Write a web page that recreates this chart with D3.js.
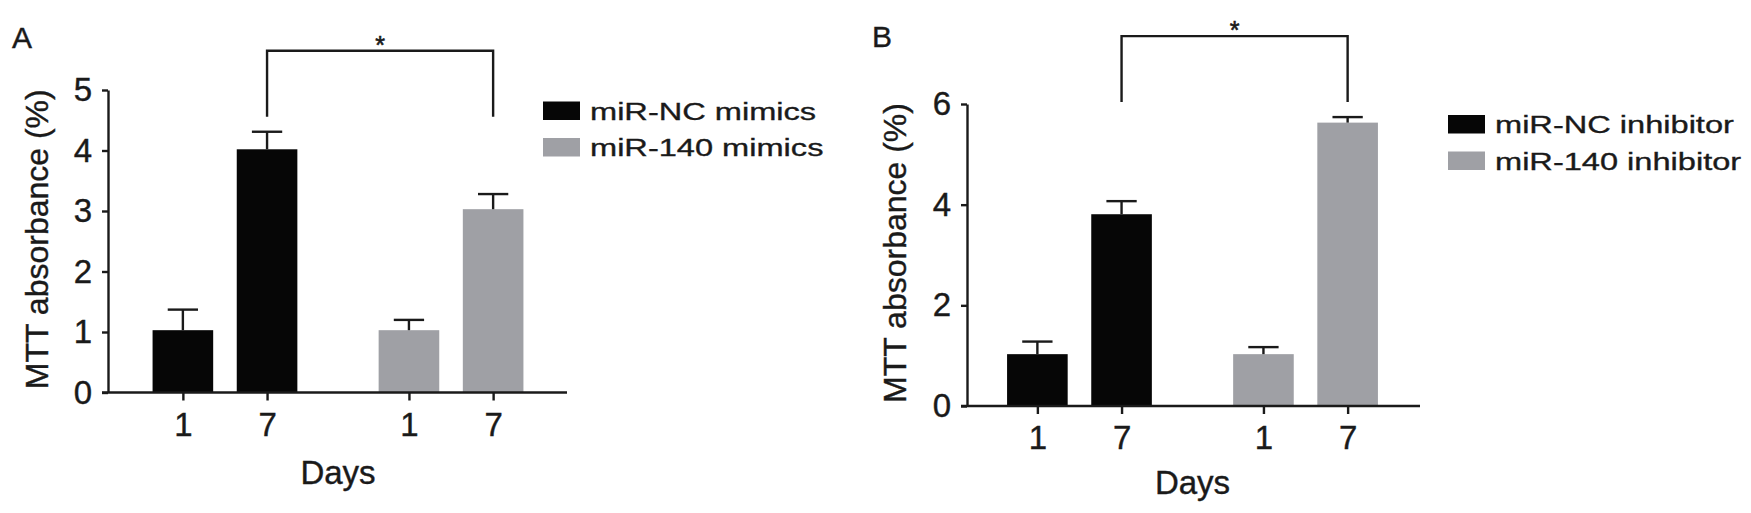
<!DOCTYPE html>
<html>
<head>
<meta charset="utf-8">
<script src="https://cdn.jsdelivr.net/npm/d3@7"></script>
<style>
  body { margin: 0; background: #fff; }
  svg { display: block; font-family: Arial, "Liberation Sans", Helvetica, sans-serif; }
</style>
</head>
<body>
<svg id="chart" width="1751" height="513"></svg>
<script>
// values (mean, upper error)
var days = ["1", "7"];

var groupsA = ["miR-NC mimics", "miR-140 mimics"];
var meansA = [[1.03, 4.02], [1.03, 3.03]];
var errA = [[0.34, 0.29], [0.17, 0.25]];
var ticksA = [0, 1, 2, 3, 4, 5];

var groupsB = ["miR-NC inhibitor", "miR-140 inhibitor"];
var meansB = [[1.03, 3.81], [1.03, 5.63]];
var errB = [[0.25, 0.26], [0.14, 0.11]];
var ticksB = [0, 2, 4, 6];

// significance: [group, day index] vs [group, day index]
var sigPair = [[0, 1], [1, 1]];
var sigLabel = "*";

var colors = ["#060606", "#9fa0a5"];
var ink = "#1a1a1a";

var svg = d3.select("#chart");

function drawPanel(cfg) {
  var g = svg.append("g")
    .attr("transform", "translate(" + cfg.left + "," + cfg.top + ")");

  var y = d3.scaleLinear()
    .domain([0, d3.max(cfg.ticks)])
    .range([cfg.height, 0]);

  // groups side by side, days inside each group
  var x0 = d3.scaleBand()
    .domain(cfg.groups)
    .range([cfg.bandStart, cfg.bandStart + 418])
    .paddingInner(0.151);
  var x1 = d3.scaleBand()
    .domain(days)
    .range([0, x0.bandwidth()])
    .padding(0.28);
  var bw = x1.bandwidth();

  var rows = [];
  cfg.groups.forEach(function(grp, i) {
    days.forEach(function(day, j) {
      rows.push({ key: i + "-" + day, group: grp, gi: i, dj: j, day: day,
                  v: cfg.means[i][j], e: cfg.errs[i][j] });
    });
  });
  var cx = function(d) { return x0(d.group) + x1(d.day) + bw / 2; };

  var xTick = d3.scaleOrdinal()
    .domain(rows.map(function(d) { return d.key; }))
    .range(rows.map(cx));

  // bars
  g.selectAll("rect.bar")
    .data(rows)
    .enter()
    .append("rect")
    .attr("class", "bar")
    .attr("x", function(d) { return cx(d) - bw / 2; })
    .attr("y", function(d) { return y(d.v); })
    .attr("width", bw)
    .attr("height", function(d) { return cfg.height - y(d.v); })
    .attr("fill", function(d) { return colors[d.gi]; });

  // error bars (upper only)
  var eb = g.selectAll("g.err")
    .data(rows)
    .enter()
    .append("g")
    .attr("class", "err")
    .attr("stroke", ink)
    .attr("stroke-width", 2.4);
  eb.append("line")
    .attr("x1", cx).attr("x2", cx)
    .attr("y1", function(d) { return y(d.v); })
    .attr("y2", function(d) { return y(d.v + d.e); });
  eb.append("line")
    .attr("x1", function(d) { return cx(d) - bw / 4; })
    .attr("x2", function(d) { return cx(d) + bw / 4; })
    .attr("y1", function(d) { return y(d.v + d.e); })
    .attr("y2", function(d) { return y(d.v + d.e); });

  // y axis
  var yAxis = g.append("g")
    .call(d3.axisLeft(y).tickValues(cfg.ticks).tickFormat(d3.format("d"))
      .tickSize(6).tickPadding(10).tickSizeOuter(0));
  yAxis.selectAll("path, line").attr("stroke", ink).attr("stroke-width", 2.4);
  yAxis.selectAll("text").attr("font-size", 33).attr("fill", ink)
    .attr("stroke", ink).attr("stroke-width", 0.4).attr("font-family", null);

  // x axis
  g.append("line")
    .attr("x1", -6).attr("x2", cfg.axisEnd)
    .attr("y1", cfg.height).attr("y2", cfg.height)
    .attr("stroke", ink).attr("stroke-width", 2.4);
  var xAxis = g.append("g")
    .attr("transform", "translate(0," + cfg.height + ")")
    .call(d3.axisBottom(xTick).tickSize(8).tickPadding(12)
      .tickFormat(function(k) { return k.split("-")[1]; }));
  xAxis.select(".domain").remove();
  xAxis.selectAll("line").attr("stroke", ink).attr("stroke-width", 2.4);
  xAxis.selectAll("text").attr("font-size", 33).attr("fill", ink)
    .attr("stroke", ink).attr("stroke-width", 0.4).attr("font-family", null);

  // axis titles
  g.append("text")
    .attr("transform", "translate(" + cfg.yTitleX + "," + (cfg.height / 2 - 2) + ") rotate(-90)")
    .attr("text-anchor", "middle")
    .attr("font-size", 32)
    .attr("fill", ink)
    .attr("stroke", ink).attr("stroke-width", 0.4)
    .text("MTT absorbance (%)");

  var mid = (x0.range()[0] + x0.range()[1]) / 2;
  g.append("text")
    .attr("x", mid)
    .attr("y", cfg.height + cfg.daysDy)
    .attr("text-anchor", "middle")
    .attr("font-size", 33)
    .attr("fill", ink)
    .attr("stroke", ink).attr("stroke-width", 0.4)
    .text("Days");

  // significance bracket
  var a = rows.filter(function(d) { return d.gi == sigPair[0][0] && d.dj == sigPair[0][1]; })[0];
  var b = rows.filter(function(d) { return d.gi == sigPair[1][0] && d.dj == sigPair[1][1]; })[0];
  var low = Math.min(y(a.v + a.e), y(b.v + b.e)) - 15;
  var high = low - 66;
  g.append("path")
    .attr("d", "M" + cx(a) + "," + low + "V" + high + "H" + cx(b) + "V" + low)
    .attr("fill", "none")
    .attr("stroke", ink)
    .attr("stroke-width", 2.4);
  g.append("text")
    .attr("x", (cx(a) + cx(b)) / 2)
    .attr("y", high + 3)
    .attr("text-anchor", "middle")
    .attr("font-size", 25)
    .attr("fill", ink)
    .attr("stroke", ink).attr("stroke-width", 0.6)
    .text(sigLabel);

  // panel letter
  svg.append("text")
    .attr("x", cfg.letterX)
    .attr("y", cfg.letterY)
    .attr("font-size", 30)
    .attr("fill", ink)
    .attr("stroke", ink).attr("stroke-width", 0.4)
    .text(cfg.letter);

  // legend
  var leg = svg.append("g")
    .attr("transform", "translate(" + cfg.legendX + "," + cfg.legendY + ")");
  cfg.groups.forEach(function(grp, i) {
    leg.append("rect")
      .attr("x", 0).attr("y", i * 36.5)
      .attr("width", 37).attr("height", 18.5)
      .attr("fill", colors[i]);
    leg.append("text")
      .attr("transform", "translate(47," + (i * 36.5 + 18) + ") scale(1.33,1)")
      .attr("font-size", 24.5)
      .attr("fill", ink)
      .attr("stroke", ink).attr("stroke-width", 0.35)
      .text(grp);
  });
}

drawPanel({
  letter: "A", letterX: 12, letterY: 48,
  left: 108, top: 90, height: 302.5, bandStart: 21, axisEnd: 459,
  ticks: ticksA, groups: groupsA, means: meansA, errs: errA,
  yTitleX: -60, daysDy: 91,
  legendX: 543, legendY: 101.5
});

drawPanel({
  letter: "B", letterX: 872, letterY: 47,
  left: 967, top: 104, height: 302, bandStart: 16.5, axisEnd: 453,
  ticks: ticksB, groups: groupsB, means: meansB, errs: errB,
  yTitleX: -61, daysDy: 88,
  legendX: 1448, legendY: 115
});
</script>
</body>
</html>
